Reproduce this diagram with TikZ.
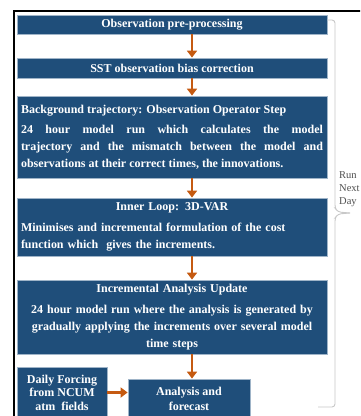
\documentclass[tikz,border=0pt]{standalone}
\usepackage{fontspec}
\setmainfont{Liberation Serif}
\usetikzlibrary{arrows.meta}
\definecolor{boxblue}{HTML}{1F4E7A}
\definecolor{boxedge}{HTML}{9FB4C8}
\definecolor{flowarrow}{HTML}{C55A11}
\definecolor{bracegray}{HTML}{C8C8C8}
\definecolor{notegray}{HTML}{505050}
\tikzset{
  stepbox/.style={rectangle, fill=boxblue, draw=boxedge, line width=0.8pt,
    text=white, font=\bfseries\fontsize{12}{16.8}\selectfont, inner sep=0pt},
  flow/.style={draw=flowarrow, line width=2.6pt,
    -{Triangle[length=7pt,width=10pt]}},
}
\begin{document}
\begin{tikzpicture}[x=1pt,y=-1pt]
  \useasboundingbox (0,0) rectangle (360,416);
  \clip (0,0) rectangle (360,416);
  \fill[white] (0,0) rectangle (360,416);

  % frame along the top and left edges
  \draw[line width=2pt] (14,416) -- (14,11) -- (361,11);

  % column of processing steps
  \node[stepbox, minimum width=310pt, minimum height=19pt] (pre) at (172,24.5)
    {Observation pre-processing};
  \node[stepbox, minimum width=310pt, minimum height=20pt] (sst) at (172,68)
    {SST observation bias correction};
  \node[stepbox, minimum width=310pt, minimum height=82pt, text width=302pt,
        align=justify] (bg) at (172,137)
    {Background trajectory: Observation Operator Step\\[4pt]
     24 hour model run which calculates the model\linebreak
     trajectory and the mismatch between the model and\linebreak
     observations at their correct times, the innovations.};
  \node[stepbox, minimum width=310pt, minimum height=58pt, text width=302pt,
        align=left] (inner) at (172,227)
    {\makebox[\linewidth][c]{Inner Loop: 3D-VAR}\\[4pt]
     Minimises and incremental formulation of the cost\\
     function which\ \ gives the increments.};
  \node[stepbox, minimum width=310pt, minimum height=74pt, text width=306pt,
        align=center] (iau) at (172,317)
    {Incremental Analysis Update\\[4pt]
     24 hour model run where the analysis is generated by\\
     gradually applying the increments over several model\\
     time steps};
  \node[stepbox, minimum width=122pt, minimum height=40pt, align=center,
        font=\bfseries\fontsize{12}{14.5}\selectfont] (fc) at (189,399)
    {Analysis and\\forecast};
  \node[stepbox, minimum width=90pt, minimum height=51pt, align=center,
        font=\bfseries\fontsize{12}{13.5}\selectfont] (force) at (62,392.5)
    {Daily Forcing\\from NCUM\\atm\ \ fields};

  % connectors
  \coordinate (ax) at (192,0);
  \draw[flow] (pre.south -| ax) -- (sst.north -| ax);
  \draw[flow] (sst.south -| ax) -- (bg.north -| ax);
  \draw[flow] (bg.south -| ax) -- (inner.north -| ax);
  \draw[flow] (inner.south -| ax) -- (iau.north -| ax);
  \draw[flow] (iau.south -| ax) -- (fc.north -| ax);
  \draw[flow] (force.east) -- (force.east -| fc.west);

  % brace marking the daily cycle
  \draw[bracegray, line width=0.9pt, rounded corners=3pt]
    (327,20) -- (335,20) -- (335,208) -- (338,212) -- (350,213);
  \draw[bracegray, line width=0.9pt, rounded corners=3pt]
    (350,213) -- (338,214) -- (335,218) -- (335,407) -- (318,407);
  \node[font=\fontsize{10.5}{13}\selectfont, text=notegray, align=left,
        anchor=north west, inner sep=0pt] (runnote) at (339,171)
    {Run\\Next\\Day};
\end{tikzpicture}
\end{document}
